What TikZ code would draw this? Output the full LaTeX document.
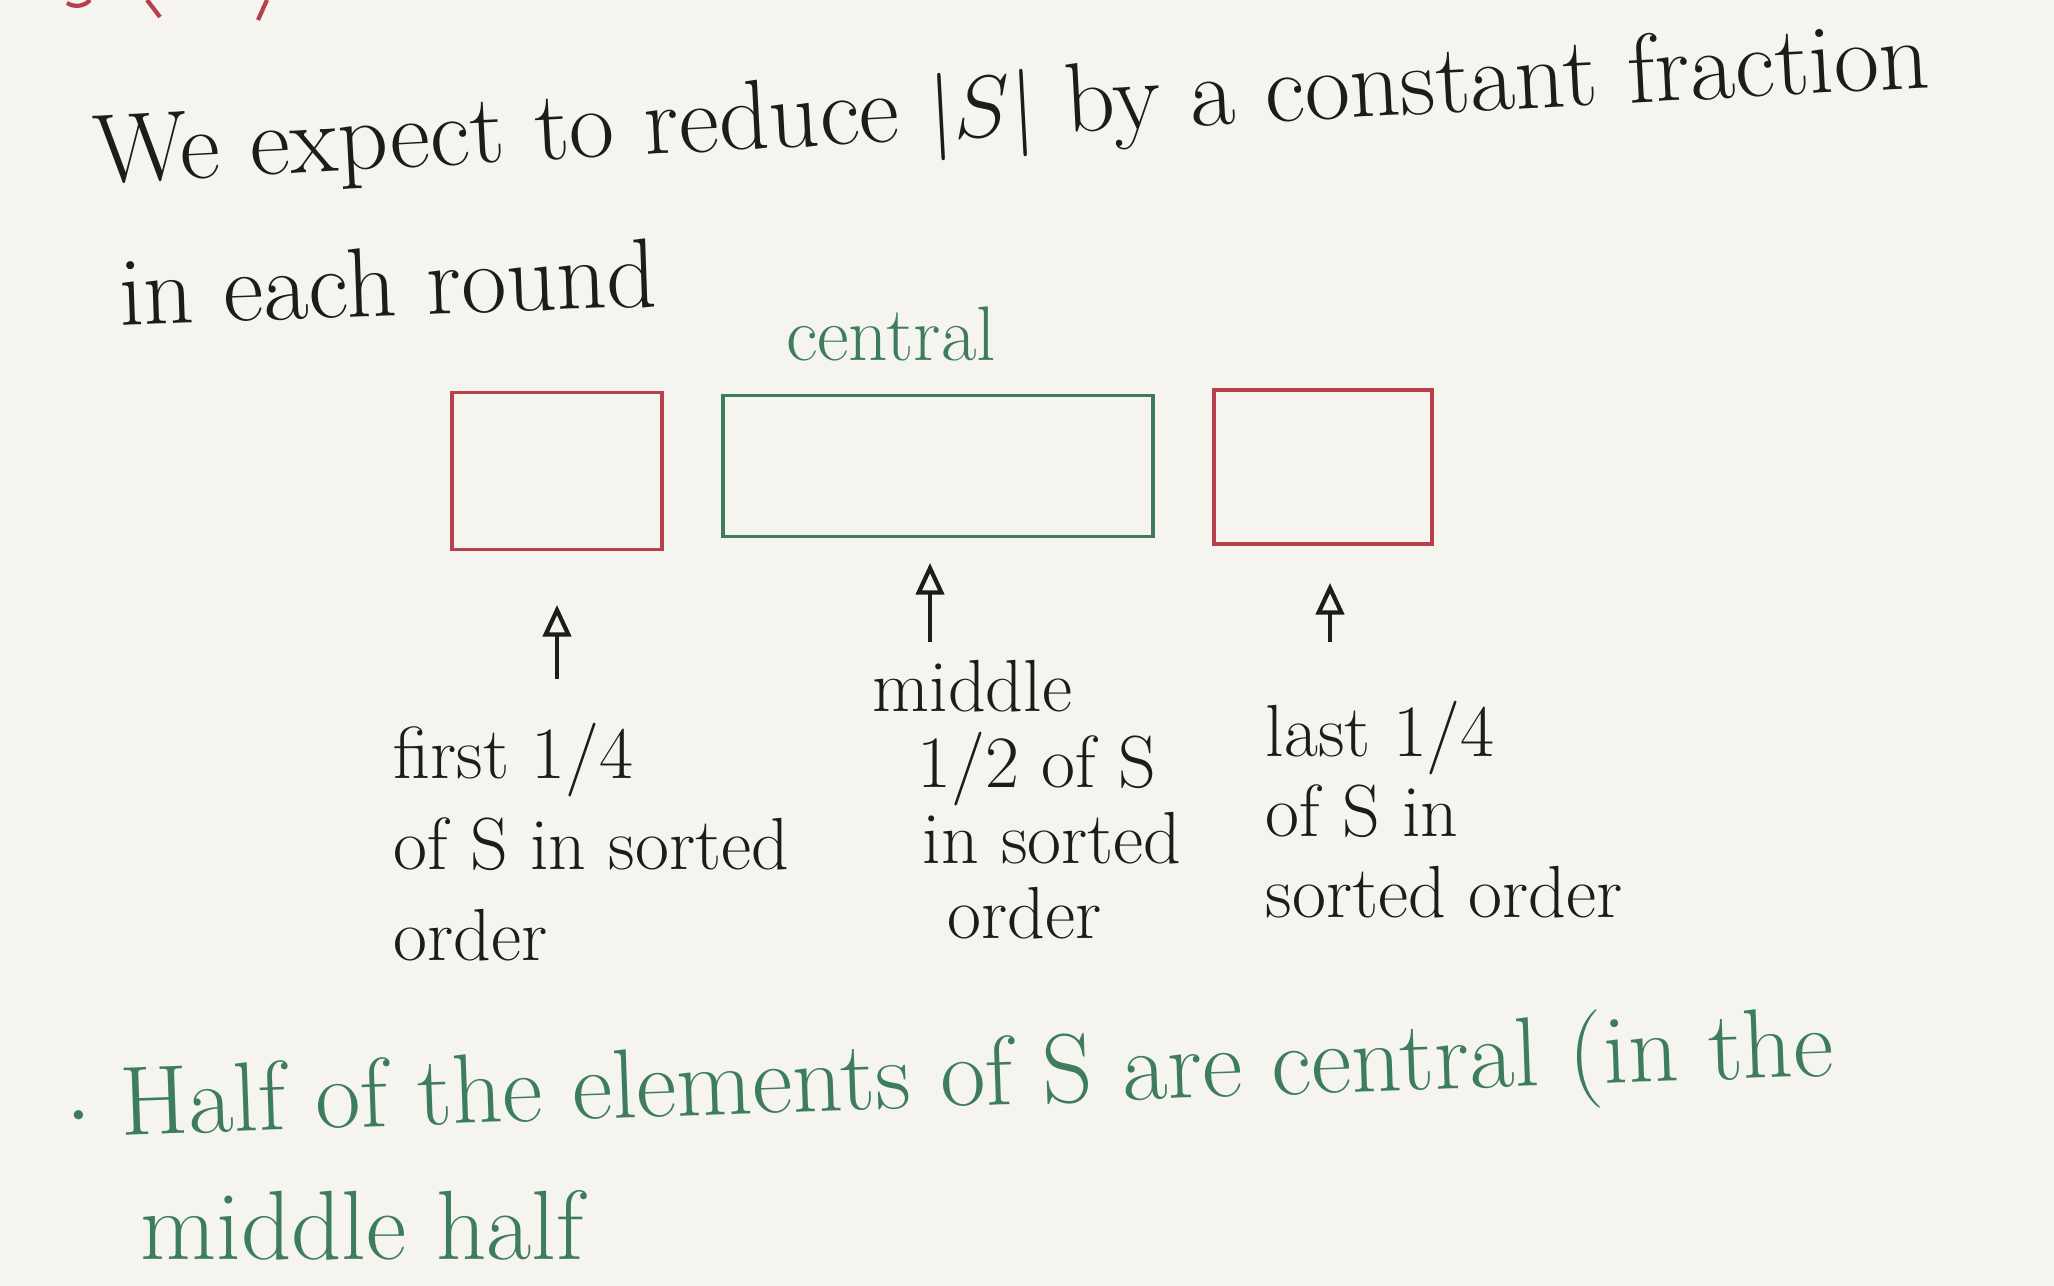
\documentclass[tikz,border=0pt]{standalone}
\usetikzlibrary{arrows.meta}
\definecolor{paper}{HTML}{F5F4EE}
\definecolor{ink}{HTML}{1C1C1C}
\definecolor{inkred}{HTML}{B8404C}
\definecolor{inkgreen}{HTML}{3D7D5E}
\tikzset{
    hand/.style={text=ink, inner sep=0pt},
    handgreen/.style={text=inkgreen, inner sep=0pt},
    partbox/.style={draw, line width=1.1pt, minimum width=#1, inner sep=0pt},
    uparrow/.style={draw=ink, line width=1.2pt, -{Triangle[open, length=9pt, width=8pt]}}
}
\def\bigtext{\fontsize{28}{32}\selectfont}
\begin{document}
\begin{tikzpicture}[x=0.01cm, y=-0.01cm]
    \fill[paper] (0, 0) rectangle (2054, 1286);
    \useasboundingbox (0, 0) rectangle (2054, 1286);
    % cut-off red strokes at the top
    \draw[inkred, line width=1.2pt] (67, 3) .. controls (75, 8) and (85, 6) .. (90, 0);
    \draw[inkred, line width=1.2pt] (147, 0) -- (160, 17);
    \draw[inkred, line width=1.2pt] (267, 0) -- (258, 20);
    % heading
    \node[hand, rotate=3, font=\bigtext] (head1) at (1012, 112) {We expect to reduce $|S|$ by a constant fraction};
    \node[hand, rotate=2, font=\bigtext] (head2) at (388, 282) {in each round};
    \node[handgreen, font=\fontsize{22}{26}\selectfont] (central) at (891, 334) {central};
    % the three parts of S
    \node[partbox=2.10cm, minimum height=1.57cm, draw=inkred] (low) at (557, 471) {};
    \node[partbox=4.29cm, minimum height=1.41cm, draw=inkgreen] (mid) at (938, 466) {};
    \node[partbox=2.18cm, minimum height=1.54cm, draw=inkred] (high) at (1323, 467) {};
    % labels below
    \node[hand, font=\fontsize{21}{26}\selectfont, align=left, anchor=north west] (lowlbl) at (393, 722) {first 1/4\\of S in sorted\\order};
    \node[hand, font=\fontsize{21}{21.5}\selectfont, align=left, anchor=north west] (midlbl) at (872, 660)
        {middle\\\hspace*{0.45cm}1/2 of S\\\hspace*{0.5cm}in sorted\\\hspace*{0.75cm}order};
    \node[hand, font=\fontsize{21}{23}\selectfont, align=left, anchor=north west] (highlbl) at (1265, 700) {last 1/4\\of S in\\sorted order};
    \foreach \i/\x/\ya/\yb in {1/557/679/605, 2/930/642/563, 3/1330/642/583} {
        \coordinate (tail\i) at (\x, \ya);
        \coordinate (tip\i) at (\x, \yb);
        \draw[uparrow] (tail\i) -- (tip\i);
    }
    % remark
    \node[handgreen, rotate=2, font=\bigtext] (note1) at (950, 1082) {$\cdot$ Half of the elements of S are central (in the};
    \node[handgreen, font=\bigtext] (note2) at (362, 1225) {middle half};
\end{tikzpicture}
\end{document}
